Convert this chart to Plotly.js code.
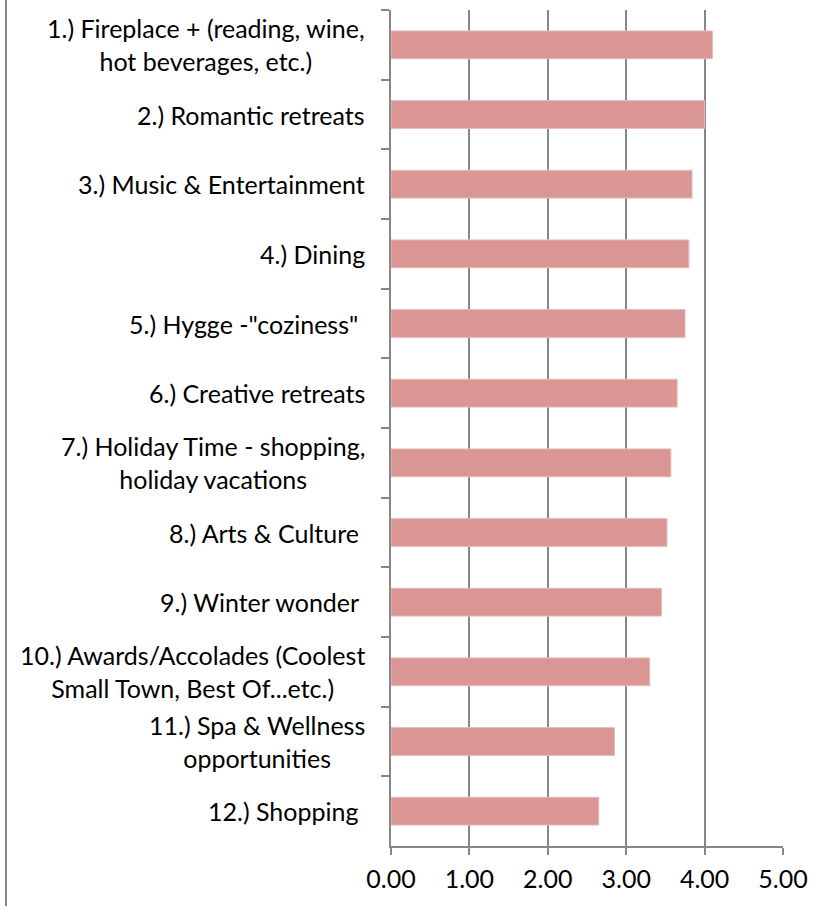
<!DOCTYPE html>
<html>
<head>
<meta charset="utf-8">
<script src="https://cdn.plot.ly/plotly-3.0.1.min.js"></script>
<style>
html,body{margin:0;padding:0;background:#fff;}
#chart{width:834px;height:906px;}
</style>
</head>
<body>
<div id="chart"></div>
<script>
// Category keys (one per bar, top to bottom)
const categories = [
  "1.) Fireplace + (reading, wine, hot beverages, etc.)",
  "2.) Romantic retreats",
  "3.) Music & Entertainment",
  "4.) Dining",
  "5.) Hygge -\"coziness\"",
  "6.) Creative retreats",
  "7.) Holiday Time - shopping, holiday vacations",
  "8.) Arts & Culture",
  "9.) Winter wonder",
  "10.) Awards/Accolades (Coolest Small Town, Best Of...etc.)",
  "11.) Spa & Wellness opportunities",
  "12.) Shopping"
];
// Displayed (wrapped) labels
const labels = [
  "1.) Fireplace + (reading, wine,<br>hot beverages, etc.)",
  "2.) Romantic retreats",
  "3.) Music & Entertainment",
  "4.) Dining",
  "5.) Hygge -\"coziness\"\u00a0",
  "6.) Creative retreats",
  "7.) Holiday Time - shopping,<br>holiday vacations",
  "8.) Arts & Culture\u00a0",
  "9.) Winter wonder\u00a0",
  "10.) Awards/Accolades (Coolest<br>Small Town, Best Of...etc.)",
  "11.) Spa & Wellness<br>opportunities",
  "12.) Shopping\u00a0"
];
const values = [4.10, 4.00, 3.84, 3.80, 3.75, 3.65, 3.57, 3.52, 3.45, 3.30, 2.85, 2.65];
const xTicks = [0, 1, 2, 3, 4, 5];

const FONT = "Lato, 'Open Sans', sans-serif";
const FS = 25;
const GRID = "#878787";

const trace = {
  type: "bar",
  orientation: "h",
  x: values,
  y: categories,
  marker: {color: "#D99694", line: {color: "#E8BDBC", width: 1}},
  hoverinfo: "x+y"
};

const annotations = categories.map((c, i) => ({
  xref: "paper", yref: "y",
  x: 0, y: c,
  xanchor: "right", yanchor: "middle",
  xshift: -24,
  align: "center",
  showarrow: false,
  text: labels[i],
  font: {family: FONT, size: FS, color: "#000"}
}));

const layout = {
  width: 834, height: 906,
  margin: {l: 391, r: 51, t: 10, b: 60, pad: 0},
  paper_bgcolor: "#fff",
  plot_bgcolor: "#fff",
  showlegend: false,
  bargap: 0.6,
  font: {family: FONT, size: FS, color: "#000"},
  xaxis: {
    range: [0, 5],
    tickvals: xTicks,
    tickformat: ".2f",
    showgrid: true, gridcolor: GRID, gridwidth: 2,
    zeroline: false,
    showline: true, linecolor: GRID, linewidth: 2,
    ticks: "outside", ticklen: 7, tickwidth: 2, tickcolor: GRID,
    ticklabelstandoff: 3,
    tickfont: {family: FONT, size: FS, color: "#000"},
    fixedrange: true
  },
  yaxis: {
    type: "category",
    categoryorder: "array",
    categoryarray: categories,
    autorange: "reversed",
    showgrid: false,
    zeroline: false,
    showline: true, linecolor: GRID, linewidth: 2,
    ticks: "outside", ticklen: 8, tickwidth: 2, tickcolor: GRID,
    tickson: "boundaries",
    showticklabels: false,
    fixedrange: true
  },
  annotations: annotations,
  shapes: [{
    type: "line", xref: "paper", yref: "paper",
    x0: -385/392, x1: -385/392,
    y0: -60/836, y1: 846/836,
    line: {color: GRID, width: 2}
  }]
};

Plotly.newPlot("chart", [trace], layout, {displayModeBar: false, staticPlot: true});
</script>
</body>
</html>
